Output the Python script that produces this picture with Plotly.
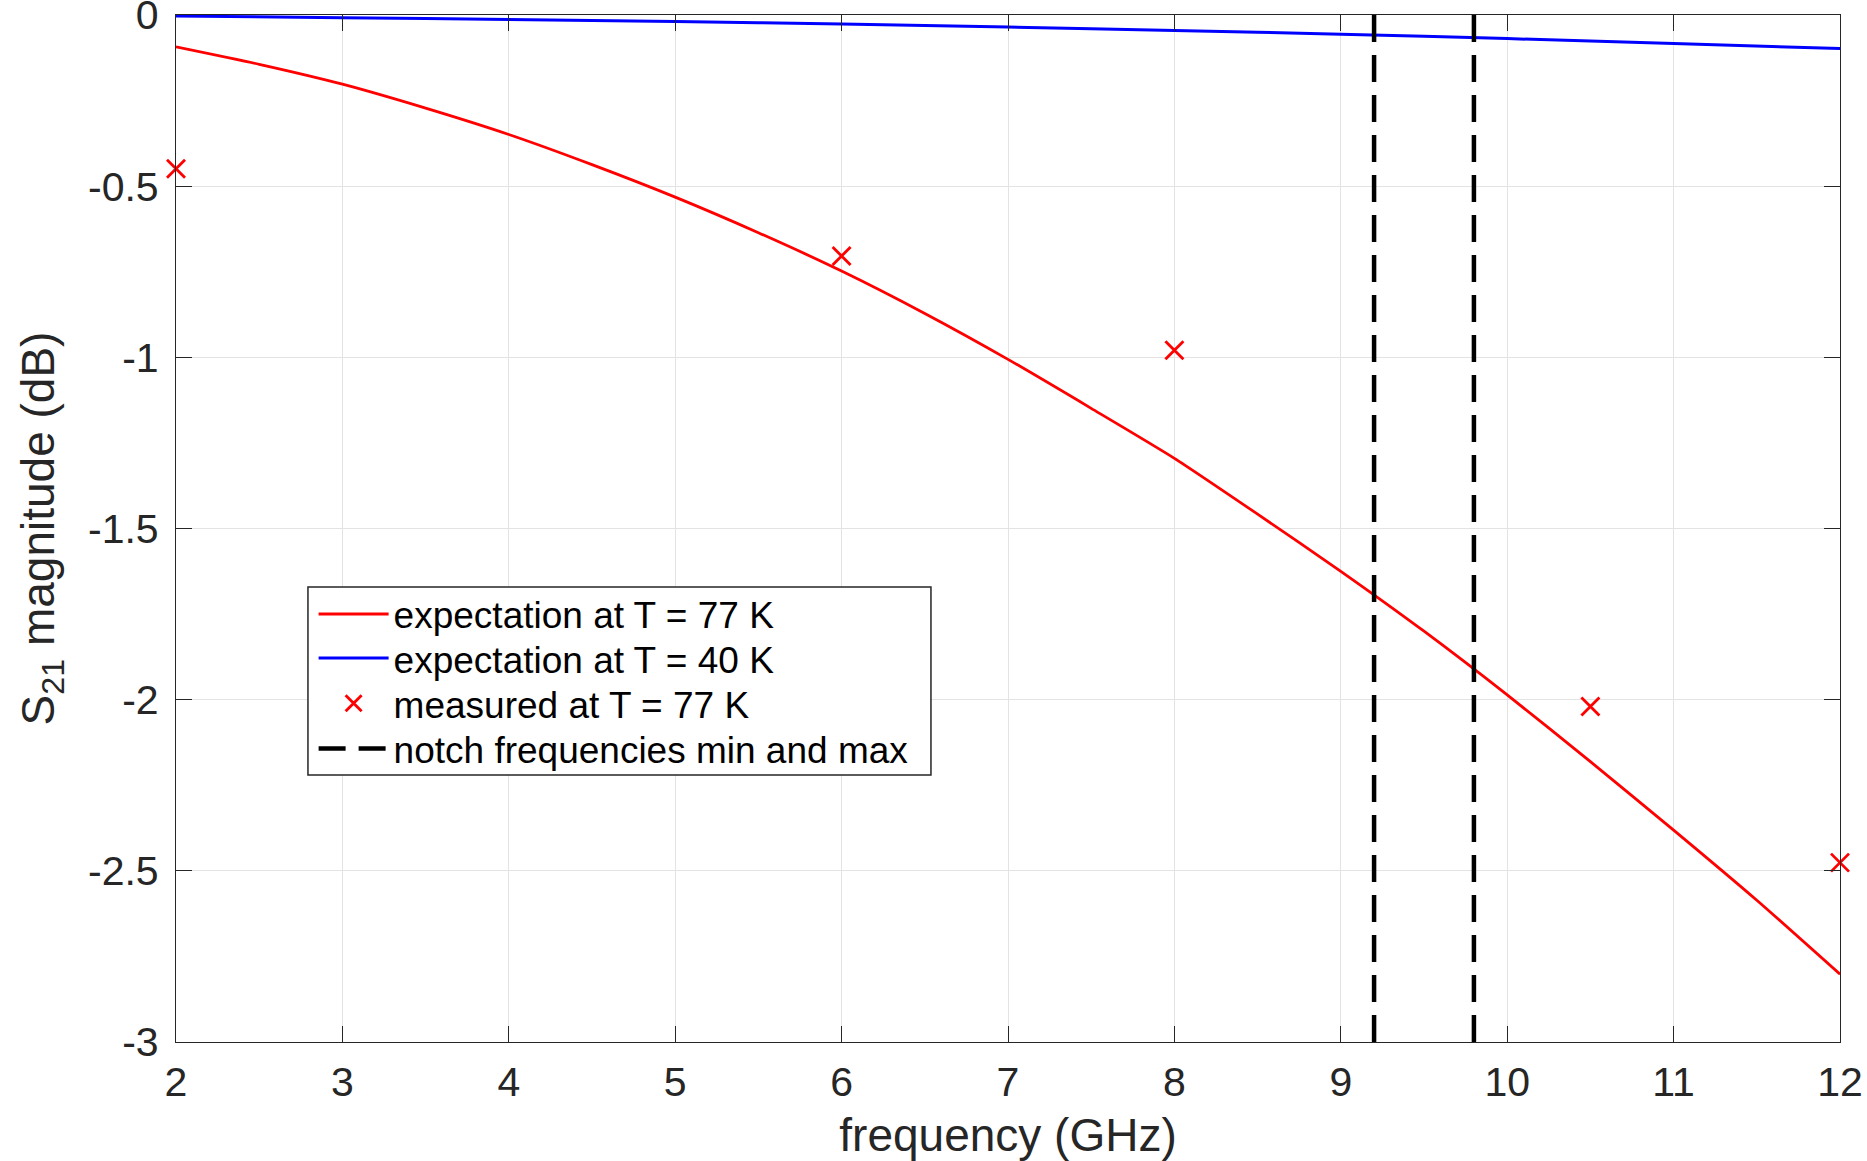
import plotly.graph_objects as go

# ---- data ----
freq_model = [2, 2.5, 3, 3.5, 4, 4.5, 5, 5.5, 6, 6.5, 7, 7.5, 8, 8.5, 9, 9.5, 10, 10.5, 11, 11.5, 12]
s21_exp_77K = [-0.093, -0.144, -0.202, -0.272, -0.349, -0.437, -0.532, -0.636, -0.748, -0.872,
               -1.006, -1.149, -1.295, -1.458, -1.625, -1.800, -1.986, -2.181, -2.381, -2.586, -2.802]
freq_model_40K = [2, 3, 4, 5, 6, 7, 8, 9, 10, 11, 12]
s21_exp_40K = [-0.003, -0.008, -0.013, -0.019, -0.026, -0.035, -0.045, -0.056, -0.069, -0.083, -0.098]
freq_meas = [2, 6, 8, 10.5, 12]
s21_meas_77K = [-0.449, -0.704, -0.979, -2.020, -2.476]
notch_freqs = [9.2, 9.8]
x_tickvals = [2, 3, 4, 5, 6, 7, 8, 9, 10, 11, 12]
x_ticktext = ["2", "3", "4", "5", "6", "7", "8", "9", "10", "11", "12"]
y_tickvals = [-3, -2.5, -2, -1.5, -1, -0.5, 0]
y_ticktext = ["-3", "-2.5", "-2", "-1.5", "-1", "-0.5", "0"]
legend_names = ["expectation at T = 77 K", "expectation at T = 40 K",
                "measured at T = 77 K", "notch frequencies min and max"]

FONT = "Liberation Sans, Arial, Helvetica, sans-serif"
AX = "#262626"
GRID = "#e3e3e3"

fig = go.Figure()

fig.add_trace(go.Scatter(x=freq_model, y=s21_exp_77K, mode="lines",
                         line=dict(color="#ff0000", width=2.8, shape="spline", smoothing=0.6),
                         name=legend_names[0], legend="legend"))
fig.add_trace(go.Scatter(x=freq_model_40K, y=s21_exp_40K, mode="lines",
                         line=dict(color="#0000ff", width=3, shape="spline", smoothing=0.6),
                         name=legend_names[1], legend="legend2"))
fig.add_trace(go.Scatter(x=freq_meas, y=s21_meas_77K, mode="markers",
                         marker=dict(symbol="x-thin", size=18, color="#ff0000",
                                     line=dict(color="#ff0000", width=2.8)),
                         cliponaxis=False,
                         name=legend_names[2], legend="legend3"))
for i, fn in enumerate(notch_freqs):
    fig.add_trace(go.Scatter(x=[fn, fn], y=[y_tickvals[-1], y_tickvals[0]], mode="lines",
                             line=dict(color="#000000", width=4.5, dash="27px,13px"),
                             name=legend_names[3], legend="legend4",
                             legendgroup="notch", showlegend=(i == 0)))

# legend rows (one legend per row so the row spacing matches the reference)
row_y = [0.4163, 0.3734, 0.3294, 0.2853]
leg_common = dict(x=0.0827, xanchor="left", yanchor="middle",
                  bgcolor="rgba(0,0,0,0)", borderwidth=0,
                  font=dict(family=FONT, size=37, color="#000000"),
                  itemwidth=70, tracegroupgap=0)

fig.update_layout(
    width=1867, height=1161,
    margin=dict(l=176, r=27, t=15, b=119),
    paper_bgcolor="white", plot_bgcolor="white",
    font=dict(family=FONT, color=AX, size=41),
    showlegend=True,
    legend=dict(y=row_y[0], **leg_common),
    legend2=dict(y=row_y[1], **leg_common),
    legend3=dict(y=row_y[2], **leg_common),
    legend4=dict(y=row_y[3], **leg_common),
    shapes=[dict(type="rect", xref="paper", yref="paper",
                 x0=0.0793, x1=0.4537, y0=0.260, y1=0.443,
                 fillcolor="white", line=dict(color=AX, width=1.5), layer="above")],
)

fig.update_xaxes(
    range=[2, 12], tickvals=x_tickvals, ticktext=x_ticktext,
    showgrid=True, gridcolor=GRID, gridwidth=1.3,
    showline=True, linecolor=AX, linewidth=1.3, mirror="ticks",
    ticks="inside", ticklen=16, tickwidth=1.3, tickcolor=AX,
    tickfont=dict(size=41, color=AX, family=FONT), ticklabelstandoff=4,
    ticklabeloverflow="allow", automargin=False,
    zeroline=False,
    title=dict(text="frequency (GHz)", font=dict(size=46, color=AX, family=FONT), standoff=14),
)
fig.update_yaxes(
    range=[-3, 0], tickvals=y_tickvals, ticktext=y_ticktext,
    showgrid=True, gridcolor=GRID, gridwidth=1.3,
    showline=True, linecolor=AX, linewidth=1.3, mirror="ticks",
    ticks="inside", ticklen=16, tickwidth=1.3, tickcolor=AX,
    tickfont=dict(size=41, color=AX, family=FONT), ticklabelstandoff=8,
    ticklabeloverflow="allow", automargin=False,
    zeroline=False,
    title=dict(text="S<sub>21</sub> magnitude (dB)", font=dict(size=46, color=AX, family=FONT), standoff=18),
)

fig.write_html("out.html", config={"displayModeBar": False},
               post_script="document.body.style.margin='0px';")
